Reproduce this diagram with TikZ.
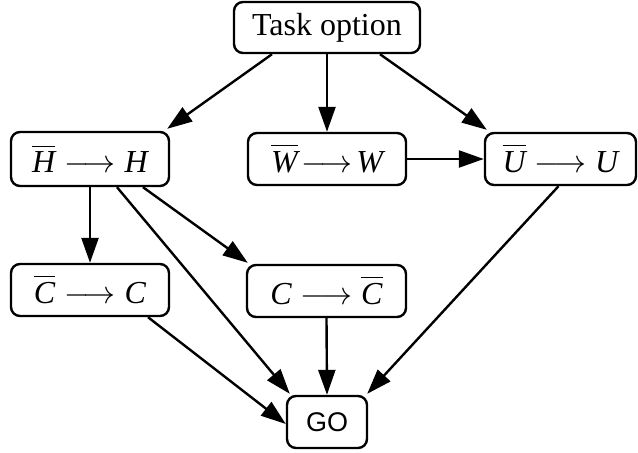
\documentclass[tikz,border=0pt]{standalone}
\usepackage{fix-cm}
\usepackage{fontspec}
\setmainfont{Liberation Serif}
\newfontfamily\gofont{Liberation Sans}
\usetikzlibrary{arrows.meta}
\newcommand{\barit}[1]{\overline{\textit{#1}\rule{0pt}{0.8em}}}
\begin{document}
\begin{tikzpicture}[x=1pt,y=-1pt,
  box/.style={draw, line width=2.4pt, rounded corners=9pt, inner sep=0pt,
    font=\fontsize{32}{38}\selectfont},
  conn/.style={line width=2.4pt, -{Triangle[length=25pt,width=17pt]}}]
\useasboundingbox (0,0) rectangle (638,453);
\node[box, minimum width=186pt, minimum height=51pt] (task) at (327,27.5) {Task option};
\node[box, minimum width=158pt, minimum height=54pt] (H) at (90,159) {$\barit{H}\longrightarrow\textit{H}$};
\node[box, minimum width=158pt, minimum height=52pt] (W) at (327,159) {$\barit{W}\!\longrightarrow\!\textit{W}$};
\node[box, minimum width=151pt, minimum height=52pt] (U) at (560.5,159) {$\barit{U}\longrightarrow\textit{U}$};
\node[box, minimum width=158pt, minimum height=52pt] (Cb) at (90,290) {$\barit{C}\longrightarrow\textit{C}$};
\node[box, minimum width=159pt, minimum height=52pt] (C) at (326.5,291) {$\textit{C}\longrightarrow\barit{C}$};
\node[box, minimum width=80pt, minimum height=52pt, font=\gofont\fontsize{27}{32}\selectfont] (GO) at (327,422) {GO};
\draw[conn] ([xshift=-55pt]task.south) -- ([xshift=-3pt,yshift=2pt]H.north east);
\draw[conn] (task.south) -- (W.north);
\draw[conn] ([xshift=53pt]task.south) -- ([xshift=3pt,yshift=2pt]U.north west);
\draw[conn] (W.east) -- (U.west);
\draw[conn] (H.south) -- (Cb.north);
\draw[conn] ([xshift=53pt]H.south) -- ([xshift=2pt,yshift=1pt]C.north west);
\draw[conn] ([xshift=27pt]H.south) -- ([xshift=4pt,yshift=1pt]GO.north west);
\draw[conn] ([xshift=58pt]Cb.south) -- ([yshift=-2pt]GO.west);
\draw[conn] (C.south) -- (GO.north);
\draw[conn] ([xshift=-2pt]U.south) -- ([xshift=-1pt,yshift=1pt]GO.north east);
\end{tikzpicture}
\end{document}
